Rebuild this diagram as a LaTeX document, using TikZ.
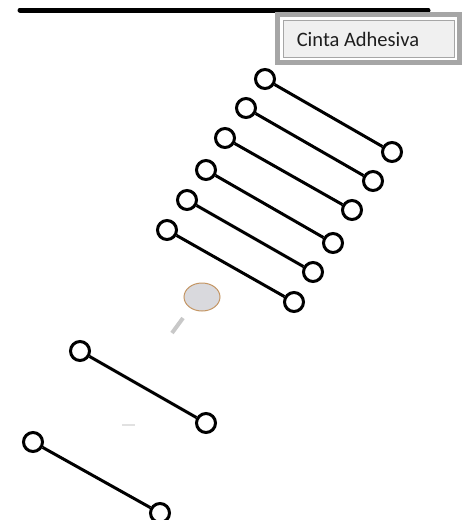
\documentclass[tikz,border=0pt]{standalone}
\usepackage{fontspec}
\usepackage{tikz}
\usetikzlibrary{shapes.geometric, positioning, calc}
\newfontfamily\boxfont{Carlito}
\definecolor{cFrame}{RGB}{166,166,166}
\definecolor{cPanel}{RGB}{240,240,240}
\definecolor{cText}{RGB}{30,30,30}
\definecolor{cSpot}{RGB}{217,217,221}
\definecolor{cRim}{RGB}{196,150,100}
\definecolor{cSmudge}{RGB}{200,200,200}
\definecolor{cFaint}{RGB}{225,225,225}
\tikzset{
	ring/.style   ={circle, draw=black, line width=3pt, fill=white, minimum size=19pt, inner sep=0pt},
	rod/.style    ={line width=3pt, black},
	tapeline/.style={line width=5pt, black, line cap=round},
	% label box styles
	frame/.style  ={draw=cFrame, line width=5pt, fill=white},
	panel/.style  ={rectangle, draw=cFrame, line width=1pt, fill=cPanel, minimum width=171pt, minimum height=37pt},
	% stray marks
	spot/.style   ={ellipse, draw=cRim, line width=1pt, fill=cSpot, minimum width=36pt, minimum height=28pt, inner sep=0pt},
	smudge/.style ={cSmudge, line width=4pt},
}
\begin{document}
\begin{tikzpicture}[x=1pt, y=-1pt]
	\useasboundingbox (0,0) rectangle (465,520);
	\coordinate (tl) at (20,10);
	\coordinate (tr) at (428,10);
	\draw[tapeline] (tl) -- (tr);
	\draw[frame] (277.5,14.5) rectangle (459.5,62.5);
	\node[panel] (box) at (368.5,38.5) {};
	\node[font=\boxfont\fontsize{20.5}{24}\selectfont, text=cText] (label) at (358,39) {Cinta Adhesiva};
	\foreach \i/\ax/\ay/\bx/\by in {1/265/79/392/152, 2/246/108/373/181, 3/225/138/352/210, 4/206/170/333/243,
		5/187/200/313/272, 6/167/230/294/302, 7/80/351/206/423, 8/33/442/160/513} {
		\node[ring] (l\i) at (\ax,\ay) {};
		\node[ring] (r\i) at (\bx,\by) {};
		\draw[rod] (l\i) -- (r\i);
	}
	\node[spot] (lens) at (202,297) {};
	\draw[smudge] (183,318) -- (172,333);
	\draw[cFaint, line width=1.5pt] (122,425) -- (135,425);
\end{tikzpicture}
\end{document}
